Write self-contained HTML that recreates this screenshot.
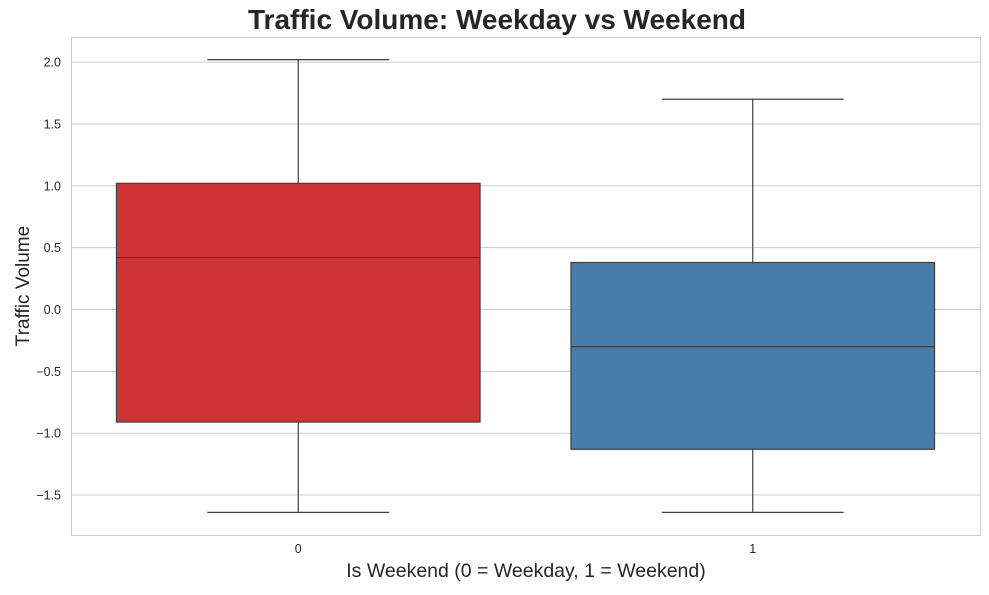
<!DOCTYPE html>
<html><head><meta charset="utf-8"><style>
body{margin:0;background:#fff;font-family:"Liberation Sans",Arial,sans-serif;}
</style></head><body>
<svg id="chart" width="989" height="590" xmlns="http://www.w3.org/2000/svg" font-family="Liberation Sans, Arial, sans-serif">
<rect width="989" height="590" fill="#fff"/>
<text x="497" y="29" text-anchor="middle" font-size="28" font-weight="bold" fill="#262626">Traffic Volume: Weekday vs Weekend</text>
<text transform="translate(29,286) rotate(-90)" text-anchor="middle" font-size="19" fill="#262626">Traffic Volume</text>
<text x="526" y="577" text-anchor="middle" font-size="19.5" fill="#262626">Is Weekend (0 = Weekday, 1 = Weekend)</text>
<g id="grid"></g>
<g id="marks"></g>
<rect x="71.5" y="37.5" width="909" height="498" fill="none" stroke="#cccccc" stroke-width="1"/>
</svg>
<script>
const categories = ["0", "1"];
const q1 = [-0.91, -1.13];
const median = [0.42, -0.30];
const q3 = [1.02, 0.38];
const whiskerLow = [-1.64, -1.64];
const whiskerHigh = [2.02, 1.70];
const yTicks = [-1.5, -1.0, -0.5, 0.0, 0.5, 1.0, 1.5, 2.0];
const colors = ["#cf3336", "#467dab"];

const ns = "http://www.w3.org/2000/svg";
const L = 71, R = 980, T = 37, B = 535;
const yMin = -1.823, yMax = 2.203;
const y = v => B - (v - yMin) / (yMax - yMin) * (B - T);
const band = (R - L) / categories.length;
const x = i => L + band * (i + 0.5);
function mk(tag, attrs, parent) {
  const e = document.createElementNS(ns, tag);
  for (const k in attrs) e.setAttribute(k, attrs[k]);
  parent.appendChild(e);
  return e;
}
const grid = document.getElementById("grid");
const marks = document.getElementById("marks");
yTicks.forEach(t => {
  const gl = mk("line", {x1: L, x2: R, y1: y(t), y2: y(t), stroke: "#cccccc", "stroke-width": 1}, grid);
  
  
  const tl = mk("text", {x: L - 10, y: y(t) + 4.5, "text-anchor": "end", "font-size": 12.5, fill: "#262626"}, grid);
  tl.textContent = t.toFixed(1).replace("-", "\u2212");
  
  
});
categories.forEach((c, i) => {
  const cx = x(i), bw = band * 0.8, cw = bw / 2;
  const g = mk("g", {}, marks);
  
  
  const st = {stroke: "#3f3f3f", "stroke-width": 1.2};
  mk("line", Object.assign({x1: cx, x2: cx, y1: y(q3[i]), y2: y(whiskerHigh[i])}, st), g);
  mk("line", Object.assign({x1: cx, x2: cx, y1: y(q1[i]), y2: y(whiskerLow[i])}, st), g);
  mk("line", Object.assign({x1: cx - cw/2, x2: cx + cw/2, y1: y(whiskerHigh[i]), y2: y(whiskerHigh[i])}, st), g);
  mk("line", Object.assign({x1: cx - cw/2, x2: cx + cw/2, y1: y(whiskerLow[i]), y2: y(whiskerLow[i])}, st), g);
  mk("rect", Object.assign({x: cx - bw/2, y: y(q3[i]), width: bw, height: y(q1[i]) - y(q3[i]), fill: colors[i]}, st), g);
  mk("line", Object.assign({x1: cx - bw/2, x2: cx + bw/2, y1: y(median[i]), y2: y(median[i])}, st), g);
  const tl = mk("text", {x: cx, y: B + 18, "text-anchor": "middle", "font-size": 12.5, fill: "#262626"}, marks);
  tl.textContent = c;
  
  
});
</script>
</body></html>
